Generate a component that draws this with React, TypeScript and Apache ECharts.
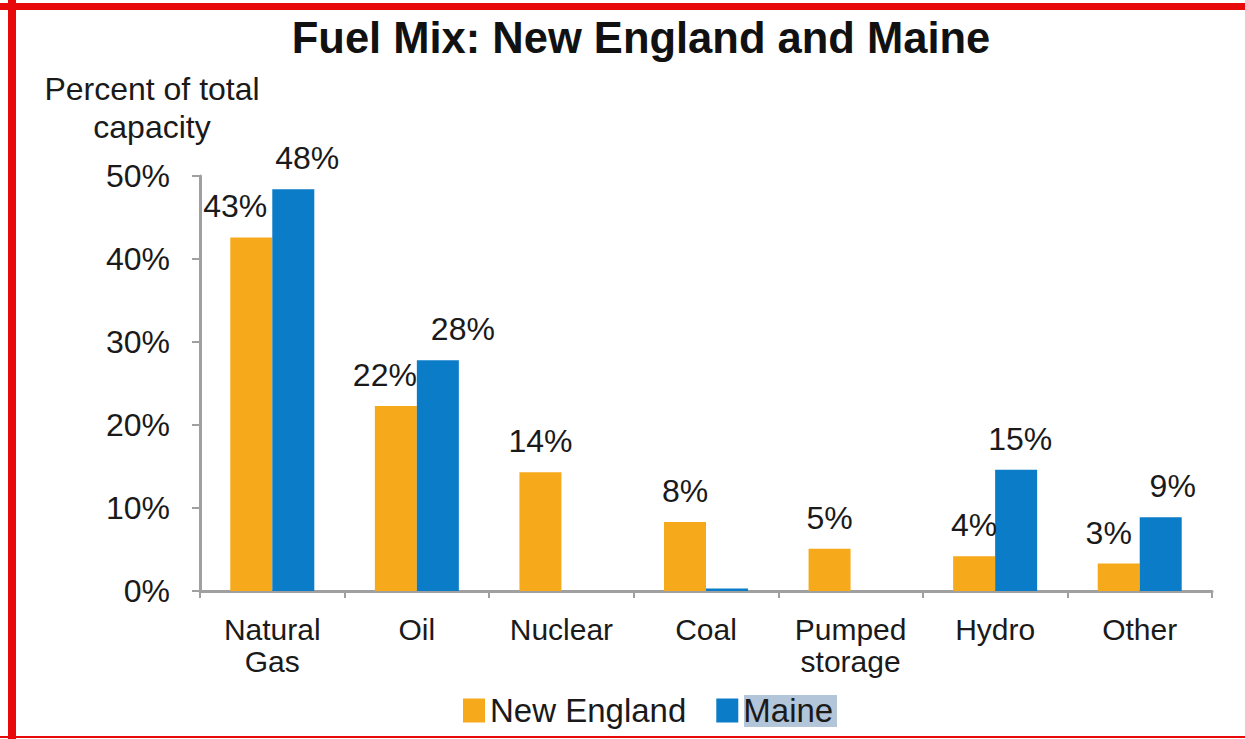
import React, { useEffect, useRef } from "react";
import * as echarts from "echarts";

const categories = ["Natural\nGas", "Oil", "Nuclear", "Coal", "Pumped\nstorage", "Hydro", "Other"];
const seriesNames = ["New England", "Maine"];
const newEngland = [42.6, 22.3, 14.3, 8.3, 5.1, 4.2, 3.3];
const maine: (number | null)[] = [48.4, 27.8, null, 0.3, null, 14.6, 8.9];
const yMin = 0;
const yMax = 50;
const yStep = 10;
const titleText = "Fuel Mix: New England and Maine";
const yAxisTitle = "Percent of total\ncapacity";

// layout-only label nudges (px), not data
const neNudge = [-16, -11, 0, 0, 0, 0, -10];
const meNudge = [14, 25, 0, 0, 0, 4, 12];

const FONT = "'Liberation Sans', Arial, Helvetica, sans-serif";
const ORANGE = "#F6A91B";
const BLUE = "#0B7CC8";
const TEXT = "#1a1a1a";

export default function App() {
  const ref = useRef<HTMLDivElement>(null);
  useEffect(() => {
    if (!ref.current) return;
    const chart = echarts.init(ref.current, undefined, { renderer: "svg" });
    const fmt = (p: any) => (p.value == null || p.value < 1 ? "" : Math.round(p.value) + "%");
    const mk = (vals: (number | null)[], nudge: number[]) =>
      vals.map((v, i) => ({ value: v, label: { offset: [nudge[i], 0] } }));
    chart.setOption({
      animation: false,
      backgroundColor: "#ffffff",
      textStyle: { fontFamily: FONT },
      grid: { left: 200, right: 33, top: 176, bottom: 148, containLabel: false },
      legend: {
        data: seriesNames,
        left: 463,
        top: 694,
        padding: 0,
        itemWidth: 22,
        itemHeight: 24,
        itemGap: 30,
        icon: "rect",
        selectedMode: false,
        textStyle: { fontSize: 33, color: TEXT, fontFamily: FONT, padding: [0, 0, 0, 0] },
      },
      xAxis: {
        type: "category",
        data: categories,
        axisLine: { lineStyle: { color: "#A0A0A0", width: 3 } },
        axisTick: { show: true, length: 7, lineStyle: { color: "#A0A0A0", width: 2 } },
        axisLabel: { interval: 0, margin: 22, fontSize: 30, lineHeight: 32, color: TEXT, fontFamily: FONT },
      },
      yAxis: {
        type: "value",
        min: yMin,
        max: yMax,
        interval: yStep,
        axisLine: { show: true, lineStyle: { color: "#A0A0A0", width: 3 } },
        axisTick: { show: true, length: 8, lineStyle: { color: "#A0A0A0", width: 2 } },
        splitLine: { show: false },
        axisLabel: { formatter: "{value}%", margin: 30, fontSize: 32, color: TEXT, fontFamily: FONT },
      },
      series: [
        {
          name: seriesNames[0],
          type: "bar",
          data: mk(newEngland, neNudge),
          barWidth: 42,
          barGap: "0%",
          itemStyle: { color: ORANGE },
          label: { show: true, position: "top", distance: 15, formatter: fmt, fontSize: 32, color: TEXT, fontFamily: FONT },
        },
        {
          name: seriesNames[1],
          type: "bar",
          data: mk(maine, meNudge),
          barWidth: 42,
          barGap: "0%",
          itemStyle: { color: BLUE },
          label: { show: true, position: "top", distance: 15, formatter: fmt, fontSize: 32, color: TEXT, fontFamily: FONT },
        },
      ],
      graphic: [
        { type: "rect", z: 0, shape: { x: 8, y: 0, width: 8, height: 739 }, style: { fill: "#E8090B" } },
        { type: "rect", z: 0, shape: { x: 0, y: 3, width: 1245, height: 7 }, style: { fill: "#E8090B" } },
        { type: "rect", z: 0, shape: { x: 0, y: 736, width: 1245, height: 2 }, style: { fill: "#E8090B" } },
        { type: "rect", z: 0, shape: { x: 744, y: 695, width: 93, height: 32 }, style: { fill: "#B3C5D9" } },
        {
          type: "text",
          x: 641,
          y: 16,
          style: { text: titleText, align: "center", verticalAlign: "top", fontSize: 43.5, fontWeight: "bold", fontFamily: FONT, fill: "#111", lineHeight: 43.5 },
        },
        {
          type: "text",
          x: 152,
          y: 70,
          style: { text: yAxisTitle, align: "center", verticalAlign: "top", fontSize: 32, lineHeight: 38, fontFamily: FONT, fill: TEXT },
        },
      ],
    });
    return () => chart.dispose();
  }, []);
  return (
    <div
      ref={ref}
      style={{ position: "fixed", left: 0, top: 0, width: 1245, height: 739, background: "#fff" }}
    />
  );
}
